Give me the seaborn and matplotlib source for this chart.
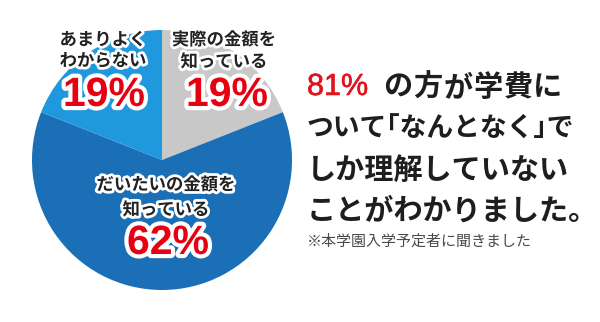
import matplotlib
matplotlib.use("Agg")
import matplotlib.pyplot as plt
import matplotlib.patheffects as pe
import seaborn as sns

# Survey answers (percent), drawn clockwise from 12 o'clock
answers = ["実際の金額を\n知っている", "だいたいの金額を\n知っている", "あまりよく\nわからない"]
shares = [19, 62, 19]
slice_colors = ["#c8c8c8", "#1a6fb6", "#1f98de"]

headline_pct = "81%"
headline_lines = ["の方が学費に", "ついて｢なんとなく｣で", "しか理解していない", "ことがわかりました。"]
footnote = "※本学園入学予定者に聞きました"

sns.set_theme(style="white")
plt.rcParams["font.family"] = ["Noto Sans CJK JP", "DejaVu Sans"]

W, H = 600, 322
fig = plt.figure(figsize=(W / 100, H / 100), dpi=100)
ax = fig.add_axes([0, 0, 1, 1])

palette = sns.color_palette(slice_colors)
ax.pie(shares, colors=palette, startangle=90, counterclock=False,
       center=(162, H - 160), radius=130,
       wedgeprops=dict(linewidth=0))
ax.set_xlim(0, W)
ax.set_ylim(0, H)
ax.set_aspect("equal")
ax.axis("off")

halo = [pe.withStroke(linewidth=4, foreground="white")]
halo_big = [pe.withStroke(linewidth=6, foreground="white")]


def y(px):
    return H - px


# label positions (x, first line y, second line y, percent y, percent x)
spots = [(224, 40, 62, 95, 227), (166, 185, 210, 243, 168), (103, 40, 61, 95, 104)]
for text, share, (cx, y1, y2, yp, xp) in zip(answers, shares, spots):
    l1, l2 = text.split("\n")
    for line, yy in ((l1, y1), (l2, y2)):
        ax.text(cx, y(yy), line, ha="center", va="center", fontsize=12.5,
                fontweight="bold", color="#222222", path_effects=halo)
    ax.text(xp, y(yp), f"{share}%", ha="center", va="center", fontsize=29.5,
            fontweight="bold", family=["Liberation Sans", "DejaVu Sans"],
            color="#e60012", path_effects=halo_big)

# headline on the right
x0 = 307
ax.text(x0, y(87), headline_pct, ha="left", va="center", fontsize=22,
        family=["Liberation Sans", "DejaVu Sans"], color="#e0141e",
        path_effects=[pe.withStroke(linewidth=0.4, foreground="#e0141e")])

head_kw = dict(va="center", fontweight="bold", color="#1e1e1e")

# first line: text after the red percentage, spaced out a little
first = headline_lines[0]
for i, ch in enumerate(first):
    ax.text(398 + i * 30, y(87), ch, ha="center", fontsize=21, **head_kw)

ax.text(x0, y(129), headline_lines[1], ha="left", fontsize=19.3, **head_kw)
ax.text(x0, y(170), headline_lines[2], ha="left", fontsize=21, **head_kw)
ax.text(x0, y(211), headline_lines[3], ha="left", fontsize=21, **head_kw)

ax.text(x0, y(242), footnote, ha="left", va="center", fontsize=10.8,
        color="#4a4a4a")

fig.savefig("out.png", dpi=100)
